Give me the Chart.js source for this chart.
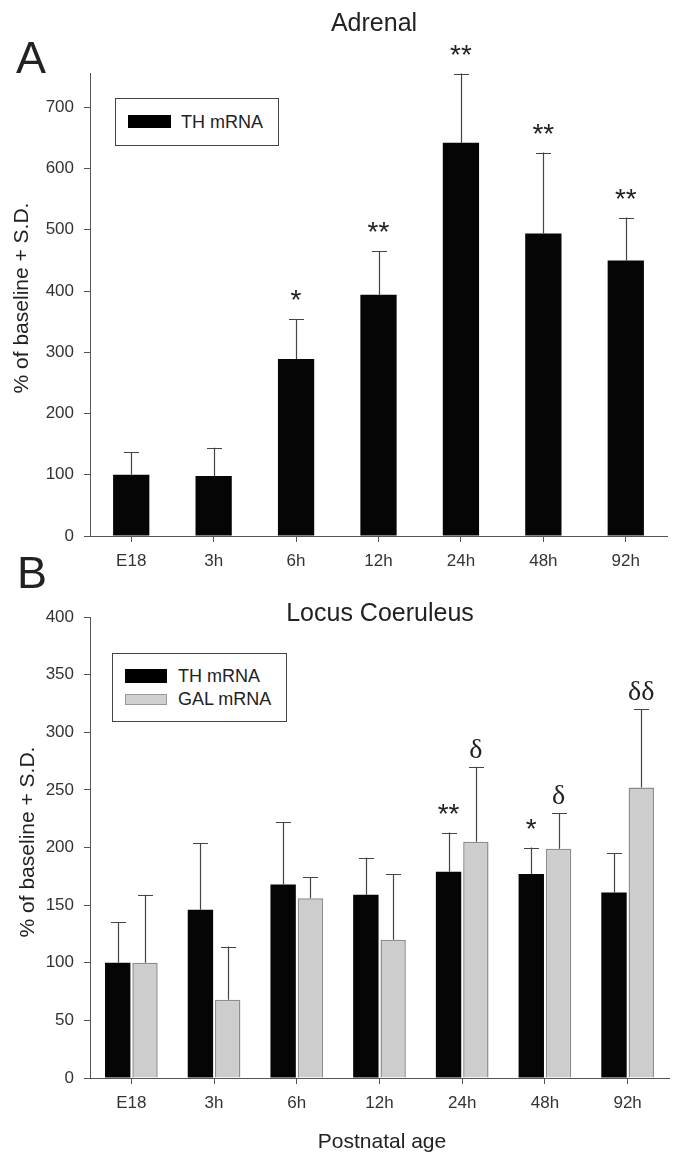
<!DOCTYPE html>
<html>
<head>
<meta charset="utf-8">
<script src="https://cdn.jsdelivr.net/npm/chart.js@4.4.1/dist/chart.umd.min.js"></script>
<style>
  html, body { margin: 0; padding: 0; background: #fff; }
  #wrap { position: relative; width: 673px; height: 1154px; overflow: hidden; background: #fff; font-family: "Liberation Sans", Arial, sans-serif; color: #222; }
  canvas { position: absolute; left: 0; }
  .t { position: absolute; line-height: 1; white-space: nowrap; transform: translate(-50%, -50%); }
  .rot { position: absolute; line-height: 1; white-space: nowrap; transform: translate(-50%, -50%) rotate(-90deg); }
  .lt { position: absolute; line-height: 1; white-space: nowrap; transform: translateY(-50%); }
  .box { position: absolute; border: 1px solid #444; box-sizing: border-box; background: #fff; }
  .sw { position: absolute; box-sizing: border-box; }
</style>
</head>
<body>
<div id="wrap">
  <canvas id="cA" width="673" height="580" style="top:0;width:673px;height:580px"></canvas>
  <canvas id="cB" width="673" height="574" style="top:580px;width:673px;height:574px"></canvas>

  <div class="t" style="left:31px;top:57px;font-size:45px;">A</div>
  <div class="t" style="left:32px;top:572px;font-size:45px;">B</div>
  <div class="t" style="left:374px;top:22px;font-size:25px;">Adrenal</div>
  <div class="t" style="left:380px;top:612px;font-size:25px;">Locus Coeruleus</div>
  <div class="t" style="left:382px;top:1140px;font-size:21px;">Postnatal age</div>
  <div class="rot" style="left:20px;top:298px;font-size:21px;">% of baseline + S.D.</div>
  <div class="rot" style="left:26px;top:842px;font-size:21px;">% of baseline + S.D.</div>

  <div class="box" style="left:115px;top:98px;width:164px;height:48px;"></div>
  <div class="sw" style="left:128px;top:115px;width:43px;height:13px;background:#000;"></div>
  <div class="lt" style="left:181px;top:122px;font-size:18px;">TH mRNA</div>

  <div class="box" style="left:112px;top:653px;width:175px;height:69px;"></div>
  <div class="sw" style="left:125px;top:669px;width:42px;height:14px;background:#000;"></div>
  <div class="sw" style="left:125px;top:694px;width:42px;height:11px;background:#d0d0d0;border:1px solid #999;"></div>
  <div class="lt" style="left:178px;top:676px;font-size:18px;">TH mRNA</div>
  <div class="lt" style="left:178px;top:699px;font-size:18px;">GAL mRNA</div>
</div>

<script>
// ---------- DATA ----------
const categories = ["E18", "3h", "6h", "12h", "24h", "48h", "92h"];

// Panel A: Adrenal, TH mRNA (% of baseline) and S.D.
const adrenalTH = [100, 98, 289, 394, 642, 494, 450];
const adrenalTHsd = [37, 46, 65, 71, 113, 132, 70];
const adrenalMarks = ["", "", "*", "**", "**", "**", "**"];

// Panel B: Locus Coeruleus
const lcTH = [100, 146, 168, 159, 179, 177, 161];
const lcTHsd = [35, 58, 54, 32, 34, 23, 34];
const lcGAL = [100, 68, 156, 120, 205, 199, 252];
const lcGALsd = [59, 46, 18, 57, 65, 31, 68];
const lcTHmarks = ["", "", "", "", "**", "*", ""];
const lcGALmarks = ["", "", "", "", "\u03B4", "\u03B4", "\u03B4\u03B4"];

const yTicksA = [0, 100, 200, 300, 400, 500, 600, 700];
const yTicksB = [0, 50, 100, 150, 200, 250, 300, 350, 400];

// ---------- STYLE ----------
const FONT = "'Liberation Sans', Arial, sans-serif";
const AXIS = "#555";
const TXT = "#333";

// plugin: error bars + significance marks, computed through the scales
const errPlugin = {
  id: "errPlugin",
  afterDatasetsDraw(chart, args, opts) {
    const ctx = chart.ctx;
    const yScale = chart.scales.y;
    chart.data.datasets.forEach((ds, di) => {
      const meta = chart.getDatasetMeta(di);
      const sd = ds.sd || [];
      const marks = ds.marks || [];
      meta.data.forEach((bar, i) => {
        const v = ds.data[i];
        const top = yScale.getPixelForValue(v + sd[i]);
        const y0 = yScale.getPixelForValue(v);
        ctx.save();
        ctx.strokeStyle = "#444";
        ctx.lineWidth = 1.2;
        ctx.beginPath();
        ctx.moveTo(Math.round(bar.x) + 0.5, y0);
        ctx.lineTo(Math.round(bar.x) + 0.5, top);
        ctx.moveTo(Math.round(bar.x) - 7, Math.round(top) + 0.5);
        ctx.lineTo(Math.round(bar.x) + 8, Math.round(top) + 0.5);
        ctx.stroke();
        const m = marks[i];
        if (m) {
          ctx.fillStyle = "#222";
          ctx.textAlign = "center";
          ctx.textBaseline = "alphabetic";
          if (m.indexOf("*") >= 0) {
            ctx.font = "28px " + FONT;
            ctx.fillText(m, bar.x, top - 10);
          } else {
            ctx.font = "28px 'Liberation Serif', 'DejaVu Serif', serif";
            ctx.fillText(m, bar.x, top - 9);
          }
        }
        ctx.restore();
      });
    });
  }
};

function xScale(h) {
  return {
    type: "category",
    offset: true,
    grid: { display: true, drawOnChartArea: false, drawTicks: true, tickLength: 6, offset: false, color: AXIS, lineWidth: 1 },
    border: { display: true, color: AXIS, width: 1 },
    ticks: { font: { family: FONT, size: 17 }, color: TXT, padding: 9 },
    afterFit: s => { s.height = h; }
  };
}
function yScale(max, step, tickList) {
  return {
    type: "linear",
    min: 0,
    max: max,
    grid: { display: true, drawOnChartArea: false, drawTicks: true, tickLength: 6, color: AXIS, lineWidth: 1 },
    border: { display: true, color: AXIS, width: 1 },
    ticks: { stepSize: step, includeBounds: false, font: { family: FONT, size: 17 }, color: TXT, padding: 10 },
    afterBuildTicks: s => { s.ticks = tickList.map(v => ({ value: v })); },
    afterFit: s => { s.width = 90; }
  };
}

new Chart(document.getElementById("cA"), {
  type: "bar",
  data: {
    labels: categories,
    datasets: [{
      label: "TH mRNA",
      data: adrenalTH,
      sd: adrenalTHsd,
      marks: adrenalMarks,
      backgroundColor: "#050505",
      borderWidth: 0,
      categoryPercentage: 1.0,
      barPercentage: 0.44
    }]
  },
  options: {
    responsive: false,
    animation: false,
    devicePixelRatio: 1,
    layout: { padding: { top: 73, right: 6, left: 0, bottom: 0 } },
    plugins: { legend: { display: false }, tooltip: { enabled: false } },
    scales: { x: xScale(44), y: yScale(756, 100, yTicksA) }
  },
  plugins: [errPlugin]
});

new Chart(document.getElementById("cB"), {
  type: "bar",
  data: {
    labels: categories,
    datasets: [{
      label: "TH mRNA",
      data: lcTH,
      sd: lcTHsd,
      marks: lcTHmarks,
      backgroundColor: "#050505",
      borderWidth: 0,
      categoryPercentage: 0.66,
      barPercentage: 0.93
    }, {
      label: "GAL mRNA",
      data: lcGAL,
      sd: lcGALsd,
      marks: lcGALmarks,
      backgroundColor: "#cdcdcd",
      borderColor: "#8c8c8c",
      borderWidth: 1.5,
      borderSkipped: "bottom",
      categoryPercentage: 0.66,
      barPercentage: 0.93
    }]
  },
  options: {
    responsive: false,
    animation: false,
    devicePixelRatio: 1,
    layout: { padding: { top: 37, right: 4, left: 0, bottom: 0 } },
    plugins: { legend: { display: false }, tooltip: { enabled: false } },
    scales: { x: xScale(76), y: yScale(400, 50, yTicksB) }
  },
  plugins: [errPlugin]
});
</script>
</body>
</html>
